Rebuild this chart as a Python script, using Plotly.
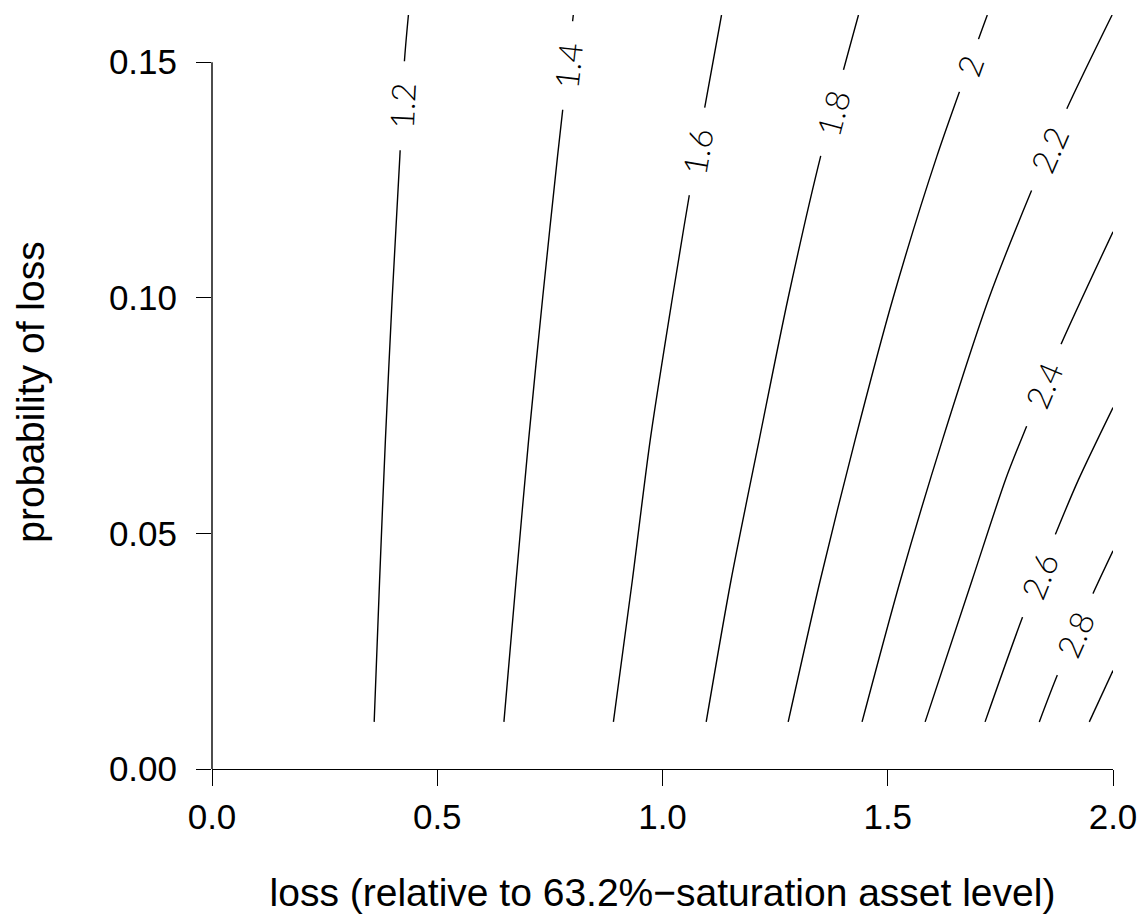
import numpy as np
import plotly.graph_objects as go

# ---- data ----
levels = [1.2, 1.4, 1.6, 1.8, 2.0, 2.2, 2.4, 2.6, 2.8, 3.0]
level_labels = ["1.2", "1.4", "1.6", "1.8", "2", "2.2", "2.4", "2.6", "2.8", ""]

# contour line coordinates: loss (x) and probability of loss (y)
c12_y = [0.010, 0.040, 0.070, 0.100, 0.130, 0.150, 0.160]
c12_x = [0.360, 0.372, 0.385, 0.400, 0.417, 0.427, 0.436]
c14_y = [0.010, 0.040, 0.070, 0.100, 0.130, 0.160]
c14_x = [0.648, 0.675, 0.703, 0.734, 0.767, 0.802]
c16_y = [0.010, 0.040, 0.070, 0.100, 0.130, 0.160]
c16_x = [0.891, 0.933, 0.973, 1.022, 1.074, 1.131]
c18_y = [0.010, 0.040, 0.070, 0.100, 0.130, 0.160]
c18_x = [1.097, 1.152, 1.215, 1.279, 1.351, 1.435]
c20_y = [0.010, 0.040, 0.070, 0.100, 0.130, 0.160]
c20_x = [1.279, 1.350, 1.428, 1.512, 1.609, 1.721]
c22_y = [0.010, 0.040, 0.070, 0.100, 0.122, 0.140, 0.160]
c22_x = [1.443, 1.528, 1.622, 1.725, 1.816, 1.897, 1.998]
c24_y = [0.010, 0.040, 0.0617, 0.0728, 0.090, 0.114]
c24_x = [1.583, 1.687, 1.7625, 1.8085, 1.884, 2.000]
c26_y = [0.010, 0.0323, 0.0496, 0.0613, 0.0767]
c26_x = [1.716, 1.7995, 1.8713, 1.9229, 2.000]
c28_y = [0.010, 0.0201, 0.0371, 0.0463]
c28_x = [1.8364, 1.8772, 1.9549, 2.000]
c30_y = [0.010, 0.0209]
c30_x = [1.9474, 2.000]

lines_x = [c12_x, c14_x, c16_x, c18_x, c20_x, c22_x, c24_x, c26_x, c28_x, c30_x]
lines_y = [c12_y, c14_y, c16_y, c18_y, c20_y, c22_y, c24_y, c26_y, c28_y, c30_y]

# probability at which each contour label sits
label_y = [0.1408, 0.1492, 0.1310, 0.1393, 0.1492, 0.1315, 0.0814, 0.0410, 0.0286, None]

x_ticks = [0.0, 0.5, 1.0, 1.5, 2.0]
x_ticktext = ["0.0", "0.5", "1.0", "1.5", "2.0"]
y_ticks = [0.00, 0.05, 0.10, 0.15]
y_ticktext = ["0.00", "0.05", "0.10", "0.15"]

# ---- layout constants ----
W, H = 1140, 914
ML, MR, MT, MB = 212, 27, 15, 145
X_RANGE = [0, 2]
Y_RANGE = [0, 0.16]
px_per_x = (W - ML - MR) / (X_RANGE[1] - X_RANGE[0])
px_per_y = (H - MT - MB) / (Y_RANGE[1] - Y_RANGE[0])

FONT = "Liberation Sans, Arial, Helvetica, sans-serif"

fig = go.Figure()
for lx, ly in zip(lines_x, lines_y):
    fig.add_trace(go.Scatter(
        x=lx, y=ly, mode="lines",
        line=dict(color="black", width=1.4, shape="spline", smoothing=0.8),
        hoverinfo="skip", showlegend=False))

annotations = []
for lx, ly, txt, yl in zip(lines_x, lines_y, level_labels, label_y):
    if yl is None or not txt:
        continue
    xl = float(np.interp(yl, ly, lx))
    y1 = max(yl - 0.006, ly[0])
    y2 = min(yl + 0.006, ly[-1])
    x1 = float(np.interp(y1, ly, lx))
    x2 = float(np.interp(y2, ly, lx))
    ang = np.degrees(np.arctan2((y2 - y1) * px_per_y, (x2 - x1) * px_per_x))
    annotations.append(dict(
        x=xl, y=yl, xref="x", yref="y", text=txt, showarrow=False,
        textangle=-ang, font=dict(family="Lato, " + FONT, size=33, color="black", weight=300),
        bgcolor="white", width=16.5 * len(txt) + 38.5, height=30, borderpad=0,
        align="center", valign="middle"))

fig.update_layout(
    width=W, height=H,
    margin=dict(l=ML, r=MR, t=MT, b=MB),
    paper_bgcolor="white", plot_bgcolor="white",
    font=dict(family=FONT, color="black"),
    annotations=annotations,
    shapes=[dict(type="line", xref="paper", yref="y", x0=0, x1=0,
                 y0=y_ticks[0], y1=y_ticks[-1],
                 line=dict(color="black", width=1.4))],
    xaxis=dict(
        range=X_RANGE, tickvals=x_ticks, ticktext=x_ticktext,
        ticks="outside", ticklen=16, tickwidth=1.4, tickcolor="black",
        showline=True, linecolor="black", linewidth=1.4,
        showgrid=False, zeroline=False, automargin=False,
        tickfont=dict(size=35), ticklabelstandoff=1,
        title=dict(text="loss (relative to 63.2%\u2212saturation asset level)",
                   font=dict(size=39), standoff=47),
    ),
    yaxis=dict(
        range=Y_RANGE, tickvals=y_ticks, ticktext=y_ticktext,
        ticks="outside", ticklen=15, tickwidth=1.4, tickcolor="black",
        showline=False, showgrid=False, zeroline=False, automargin=False,
        tickfont=dict(size=35), ticklabelstandoff=12,
        title=dict(text="probability of loss", font=dict(size=39), standoff=52),
    ),
)

fig.write_html("out.html", config={"displayModeBar": False},
               post_script="document.body.style.margin='0px';document.body.style.overflow='hidden';")
